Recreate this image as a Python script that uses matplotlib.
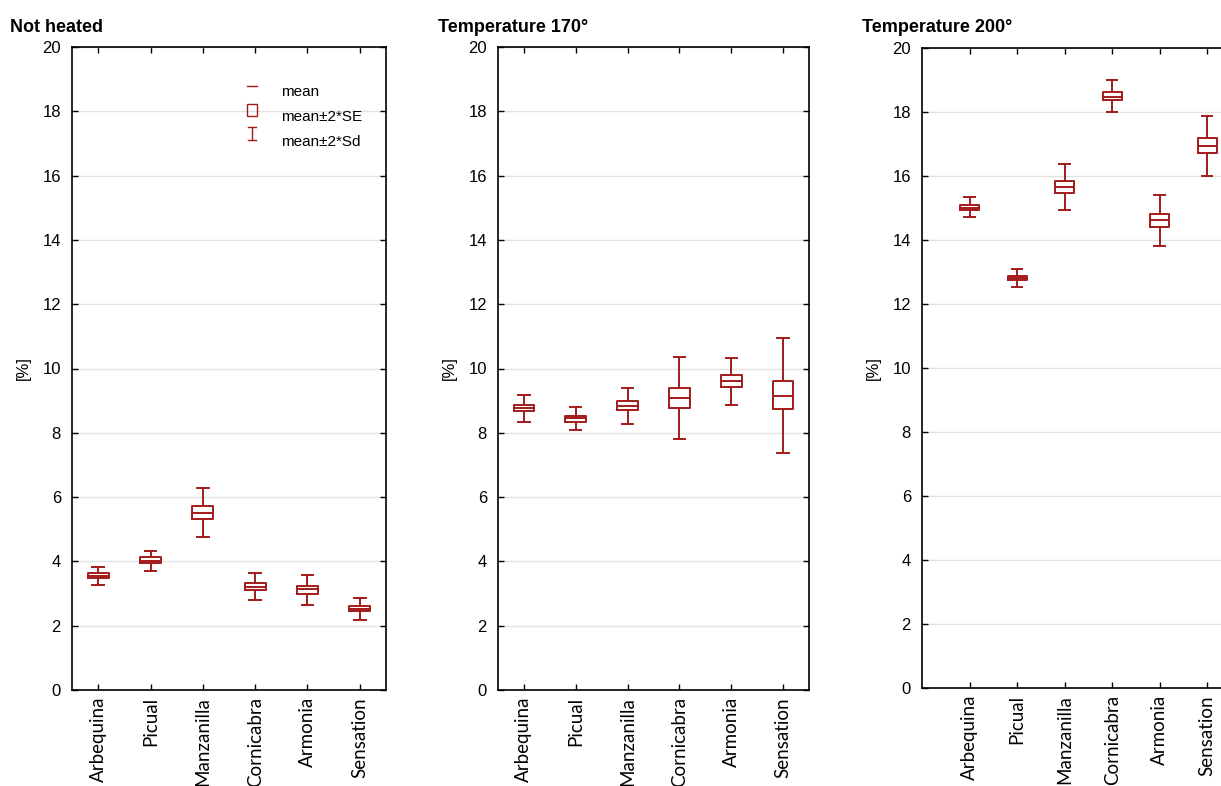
import matplotlib
matplotlib.use("Agg")
import matplotlib.pyplot as plt
from matplotlib.lines import Line2D
from matplotlib.patches import Rectangle

categories = ["Arbequina", "Picual", "Manzanilla", "Cornicabra", "Armonia", "Sensation"]
titles = ["Not heated", "Temperature 170°", "Temperature 200°"]

# mean, mean-2SE, mean+2SE, mean-2SD, mean+2SD
mean_nh = [3.55, 4.02, 5.52, 3.21, 3.13, 2.53]
se_lo_nh = [3.47, 3.94, 5.33, 3.11, 3.00, 2.46]
se_hi_nh = [3.63, 4.13, 5.72, 3.32, 3.23, 2.61]
sd_lo_nh = [3.27, 3.70, 4.77, 2.80, 2.64, 2.19]
sd_hi_nh = [3.84, 4.32, 6.29, 3.63, 3.58, 2.87]

mean_170 = [8.77, 8.45, 8.82, 9.09, 9.60, 9.16]
se_lo_170 = [8.67, 8.35, 8.70, 8.77, 9.42, 8.73]
se_hi_170 = [8.86, 8.53, 8.98, 9.40, 9.79, 9.61]
sd_lo_170 = [8.34, 8.08, 8.26, 7.81, 8.87, 7.38]
sd_hi_170 = [9.17, 8.81, 9.39, 10.36, 10.33, 10.95]

mean_200 = [15.01, 12.81, 15.67, 18.48, 14.61, 16.95]
se_lo_200 = [14.94, 12.74, 15.48, 18.36, 14.40, 16.73]
se_hi_200 = [15.10, 12.87, 15.84, 18.62, 14.80, 17.18]
sd_lo_200 = [14.72, 12.53, 14.95, 18.00, 13.81, 16.00]
sd_hi_200 = [15.33, 13.09, 16.37, 18.99, 15.40, 17.88]

yticks = [0, 2, 4, 6, 8, 10, 12, 14, 16, 18, 20]

panels = [
    (mean_nh, se_lo_nh, se_hi_nh, sd_lo_nh, sd_hi_nh),
    (mean_170, se_lo_170, se_hi_170, sd_lo_170, sd_hi_170),
    (mean_200, se_lo_200, se_hi_200, sd_lo_200, sd_hi_200),
]

RED = "#a31a1a"
NUMFONT = "Liberation Sans"
CATFONT = "Lato"

fig = plt.figure(figsize=(12.21, 7.86), dpi=100)

positions = [
    [72 / 1221, 96 / 786, 314 / 1221, 643 / 786],
    [498 / 1221, 96 / 786, 311 / 1221, 643 / 786],
    [922 / 1221, 98 / 786, 309 / 1221, 640 / 786],
]
xlims = [(0.5, 6.5), (0.5, 6.5), (0.0, 6.5)]
title_x = [10, 438, 862]

for i, (vals, pos, xl) in enumerate(zip(panels, positions, xlims)):
    ax = fig.add_axes(pos)
    m, slo, shi, dlo, dhi = vals
    stats = []
    for k in range(len(categories)):
        stats.append(dict(med=m[k], q1=slo[k], q3=shi[k], whislo=dlo[k], whishi=dhi[k], fliers=[]))
    xs = list(range(1, len(categories) + 1))
    ax.bxp(stats, positions=xs, widths=0.4, capwidths=0.22, showfliers=False,
           boxprops=dict(color=RED, linewidth=1.4),
           medianprops=dict(color=RED, linewidth=1.4),
           whiskerprops=dict(color=RED, linewidth=1.4),
           capprops=dict(color=RED, linewidth=1.4),
           manage_ticks=False)
    ax.set_xlim(*xl)
    ax.set_ylim(0, 20)
    ax.set_yticks(yticks)
    ax.set_xticks(xs)
    ax.set_xticklabels(categories, rotation=90, fontfamily=CATFONT, fontsize=13.5)
    for lab in ax.get_yticklabels():
        lab.set_fontfamily(NUMFONT)
        lab.set_fontsize(12)
    ax.yaxis.grid(True, color="#e2e2e2", linewidth=1.0)
    ax.set_axisbelow(True)
    ax.tick_params(axis="both", direction="in", length=4, width=1, top=True, right=True, colors="black")
    ax.tick_params(axis="x", pad=5)
    ax.tick_params(axis="y", pad=8)
    for sp in ax.spines.values():
        sp.set_linewidth(1.2)
    if i == 2:
        ax.spines["right"].set_visible(False)
    ax.set_ylabel("[%]", fontfamily=NUMFONT, fontsize=12, labelpad=8)
    fig.text(title_x[i] / 1221, (786 - 27) / 786, titles[i], fontfamily=NUMFONT,
             fontsize=13, fontweight="bold", va="center", ha="left")

    if i == 0:
        tr = ax.transAxes
        # legend symbols
        ax.add_line(Line2D([0.558, 0.589], [0.939, 0.939], color=RED, linewidth=1.0, transform=tr))
        ax.add_patch(Rectangle((0.558, 0.893), 0.03, 0.019, fill=False, edgecolor=RED, linewidth=1.0, transform=tr))
        ax.add_line(Line2D([0.573, 0.573], [0.855, 0.876], color=RED, linewidth=1.0, transform=tr))
        ax.add_line(Line2D([0.561, 0.585], [0.876, 0.876], color=RED, linewidth=1.0, transform=tr))
        ax.add_line(Line2D([0.561, 0.585], [0.855, 0.855], color=RED, linewidth=1.0, transform=tr))
        for ty, txt in zip([0.930, 0.891, 0.853], ["mean", "mean±2*SE", "mean±2*Sd"]):
            ax.text(0.665, ty, txt, transform=tr, fontfamily=NUMFONT, fontsize=11, va="center", ha="left")

fig.savefig("out.png", dpi=100)
